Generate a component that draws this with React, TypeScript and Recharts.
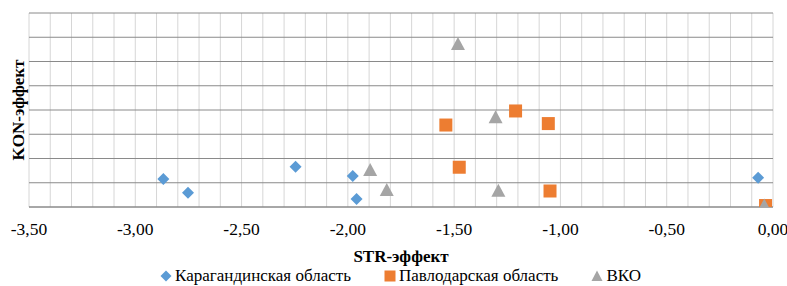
import React from "react";
import { ScatterChart, Scatter, XAxis, YAxis, CartesianGrid, Legend, ReferenceLine } from "recharts";

const karagandaX = [-2.868, -2.752, -2.246, -1.977, -1.959, -0.07];
const karagandaY = [1.15, 0.59, 1.66, 1.28, 0.33, 1.21];
const pavlodarX = [-1.539, -1.476, -1.211, -1.057, -1.049, -0.035];
const pavlodarY = [3.38, 1.64, 3.96, 3.44, 0.66, 0.06];
const vkoX = [-1.482, -1.305, -1.895, -1.817, -1.292, -0.041];
const vkoY = [6.72, 3.7, 1.53, 0.7, 0.67, 0.06];

const seriesNames = ["Карагандинская область", "Павлодарская область", "ВКО"];
const seriesColors = ["#5B9BD5", "#ED7D31", "#A5A5A5"];
const xTitle = "STR-эффект";
const yTitle = "KON-эффект";

const xTicks = [
  -3.5, -3.4, -3.3, -3.2, -3.1, -3.0, -2.9, -2.8, -2.7, -2.6, -2.5, -2.4, -2.3, -2.2, -2.1, -2.0,
  -1.9, -1.8, -1.7, -1.6, -1.5, -1.4, -1.3, -1.2, -1.1, -1.0, -0.9, -0.8, -0.7, -0.6, -0.5, -0.4,
  -0.3, -0.2, -0.1, 0,
];
const yTicks = [0, 1, 2, 3, 4, 5, 6, 7, 8];

const toPoints = (xs: number[], ys: number[]) => xs.map((x, i) => ({ x, y: ys[i] }));
const karaganda = toPoints(karagandaX, karagandaY);
const pavlodar = toPoints(pavlodarX, pavlodarY);
const vko = toPoints(vkoX, vkoY);

const FONT = "'Liberation Serif', 'Times New Roman', 'DejaVu Serif', serif";

const Diamond = (p: any) => (
  <polygon
    points={`${p.cx},${p.cy - 6} ${p.cx + 6},${p.cy} ${p.cx},${p.cy + 6} ${p.cx - 6},${p.cy}`}
    fill={seriesColors[0]}
  />
);
const Square = (p: any) => (
  <rect x={p.cx - 6.5} y={p.cy - 6.5} width={13} height={13} fill={seriesColors[1]} />
);
const Triangle = (p: any) => (
  <polygon
    points={`${p.cx},${p.cy - 7} ${p.cx + 7},${p.cy + 6} ${p.cx - 7},${p.cy + 6}`}
    fill={seriesColors[2]}
  />
);

const fmt = (v: number) => {
  const d = v * 2;
  if (Math.abs(d - Math.round(d)) > 1e-6) return "";
  return (Math.abs(v) < 1e-9 ? 0 : v).toFixed(2).replace(".", ",");
};

const XTick = (p: any) => {
  const label = fmt(p.payload.value);
  if (!label) return null;
  return (
    <text
      x={p.x}
      y={p.y}
      textAnchor="middle"
      dominantBaseline="central"
      fontFamily={FONT}
      fontSize={17.5}
      fill="#000"
    >
      {label}
    </text>
  );
};

const LegendIcon = ({ i }: { i: number }) => (
  <svg width={12} height={12} style={{ marginRight: 3 }}>
    {i === 0 && <polygon points="6,0.5 11.5,6 6,11.5 0.5,6" fill={seriesColors[0]} />}
    {i === 1 && <rect x={0.5} y={0.5} width={11} height={11} fill={seriesColors[1]} />}
    {i === 2 && <polygon points="6,0.5 11.5,11 0.5,11" fill={seriesColors[2]} />}
  </svg>
);

const LegendContent = () => (
  <div
    style={{
      display: "flex",
      justifyContent: "center",
      alignItems: "center",
      height: 24,
      paddingLeft: 14,
      fontFamily: FONT,
      fontSize: 17,
      color: "#000",
    }}
  >
    {seriesNames.map((n, i) => (
      <div key={n} style={{ display: "flex", alignItems: "center", marginRight: i < 2 ? 33 : 0 }}>
        <LegendIcon i={i} />
        <span>{n}</span>
      </div>
    ))}
  </div>
);

const YTitle = (props: any) => {
  const vb = props.viewBox || { x: 0, y: 13, width: 29, height: 194 };
  const cx = 18;
  const cy = vb.y + vb.height / 2;
  return (
    <text
      x={cx}
      y={cy}
      transform={`rotate(-90 ${cx} ${cy})`}
      textAnchor="middle"
      dominantBaseline="central"
      fontFamily={FONT}
      fontWeight="bold"
      fontSize={17}
      fill="#000"
    >
      {yTitle}
    </text>
  );
};

export default function App() {
  return (
    <div style={{ position: "absolute", left: 0, top: 0, background: "#fff" }}>
      <ScatterChart width={787} height={286} margin={{ top: 13, right: 14, bottom: 0, left: 0 }}>
        <CartesianGrid horizontal={false} vertical={true} stroke="#d6d6d6" strokeWidth={1} />
        {yTicks.map((t) => (
          <ReferenceLine key={t} y={t} stroke="#8a8a8a" strokeWidth={1} ifOverflow="extendDomain" />
        ))}
        <XAxis
          type="number"
          dataKey="x"
          domain={[-3.5, 0]}
          ticks={xTicks}
          interval={0}
          tickLine={false}
          axisLine={{ stroke: "#8a8a8a" }}
          height={55}
          tick={XTick}
          tickSize={0}
          tickMargin={22}
          allowDataOverflow
          label={{
            content: (props: any) => {
              const vb = props.viewBox;
              return (
                <text
                  x={vb.x + vb.width / 2}
                  y={vb.y + 49}
                  textAnchor="middle"
                  dominantBaseline="central"
                  fontFamily={FONT}
                  fontWeight="bold"
                  fontSize={17}
                  fill="#000"
                >
                  {xTitle}
                </text>
              );
            },
          }}
        />
        <YAxis
          type="number"
          dataKey="y"
          domain={[0, 8]}
          ticks={yTicks}
          interval={0}
          width={29}
          tick={false}
          tickLine={false}
          axisLine={false}
          allowDataOverflow
          label={{ content: YTitle }}
        />
        <Legend
          verticalAlign="bottom"
          content={LegendContent as any}
          wrapperStyle={{ left: 0, width: 787, bottom: -2 }}
        />
        <Scatter name={seriesNames[0]} data={karaganda} shape={Diamond} isAnimationActive={false} />
        <Scatter name={seriesNames[1]} data={pavlodar} shape={Square} isAnimationActive={false} />
        <Scatter name={seriesNames[2]} data={vko} shape={Triangle} isAnimationActive={false} />
      </ScatterChart>
    </div>
  );
}
